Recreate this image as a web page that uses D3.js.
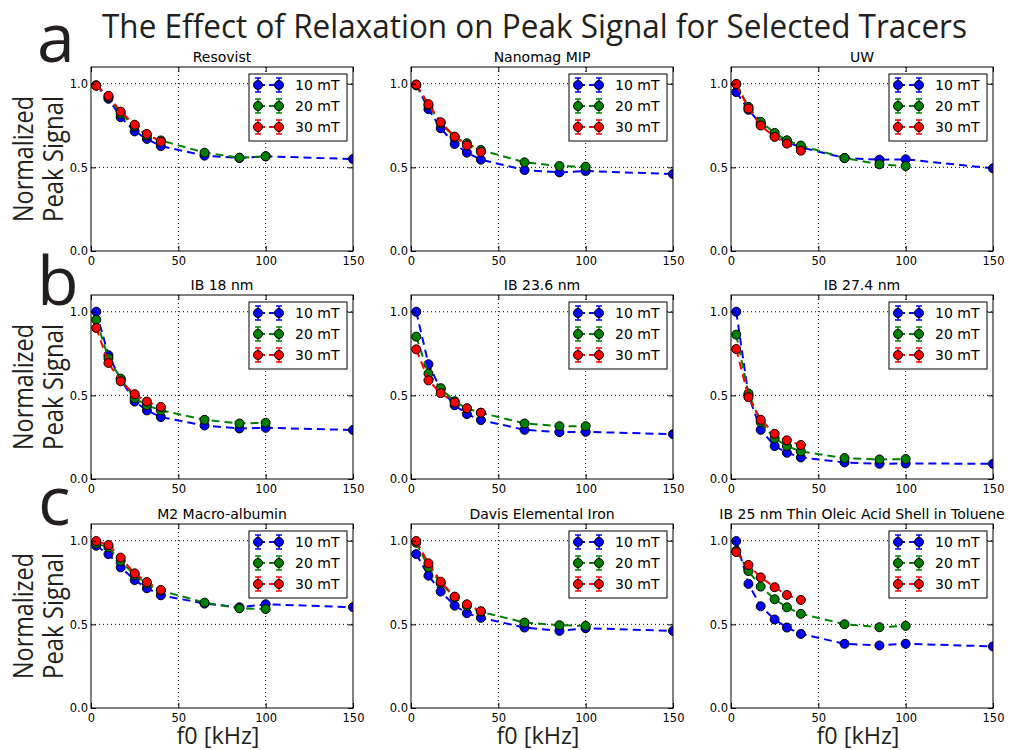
<!doctype html>
<html>
  <head>
    <script src="https://cdn.jsdelivr.net/npm/d3@7/dist/d3.min.js"></script>
    <style>
      body { margin: 0; background: #fff; }
      .big { font-family: "Open Sans", sans-serif; fill: #231f20; }
      .small { font-family: "DejaVu Sans", sans-serif; fill: #000; }
      .grid { stroke: #000; stroke-width: 1; stroke-dasharray: 1,3; }
    </style>
  </head>
  <body>
    <svg id="fig" width="1009" height="750"></svg>
    <script>
      // f0 in kHz, shared by all tracers
      var freqs = [3, 10, 17, 25, 32, 40, 65, 85, 100, 150];
      var fields = ["10 mT", "20 mT", "30 mT"];
      var colors = ["#0000ff", "#008000", "#ff0000"];
      var rowLetters = ["a", "b", "c"];

      // each tracer: [10 mT, 20 mT, 30 mT] peak signal, normalized
      var resovist = [
        [0.99, 0.91, 0.80, 0.715, 0.67, 0.627, 0.57, 0.556, 0.566, 0.55],
        [0.99, 0.92, 0.82, 0.745, 0.69, 0.661, 0.588, 0.558, 0.566],
        [0.988, 0.928, 0.833, 0.755, 0.70, 0.653]
      ];
      var nanomag = [
        [0.994, 0.848, 0.734, 0.64, 0.588, 0.546, 0.484, 0.47, 0.478, 0.46],
        [0.99, 0.87, 0.765, 0.68, 0.644, 0.604, 0.53, 0.508, 0.504],
        [0.995, 0.878, 0.77, 0.684, 0.632, 0.592]
      ];
      var uw = [
        [0.95, 0.844, 0.76, 0.688, 0.652, 0.62, 0.556, 0.546, 0.548, 0.494],
        [0.998, 0.862, 0.772, 0.706, 0.662, 0.63, 0.556, 0.518, 0.508],
        [0.998, 0.852, 0.75, 0.682, 0.642, 0.60]
      ];
      var ib18 = [
        [1.0, 0.74, 0.596, 0.463, 0.41, 0.37, 0.32, 0.302, 0.306, 0.293],
        [0.952, 0.722, 0.60, 0.483, 0.441, 0.41, 0.354, 0.332, 0.336],
        [0.903, 0.694, 0.584, 0.507, 0.463, 0.431]
      ];
      var ib236 = [
        [1.0, 0.686, 0.537, 0.441, 0.388, 0.352, 0.294, 0.28, 0.282, 0.268],
        [0.851, 0.63, 0.543, 0.465, 0.421, 0.396, 0.332, 0.316, 0.316],
        [0.775, 0.59, 0.513, 0.457, 0.423, 0.396]
      ];
      var ib274 = [
        [1.0, 0.50, 0.294, 0.197, 0.157, 0.129, 0.099, 0.091, 0.093, 0.091],
        [0.863, 0.511, 0.34, 0.243, 0.197, 0.165, 0.125, 0.117, 0.119],
        [0.777, 0.489, 0.354, 0.27, 0.231, 0.203]
      ];
      var m2 = [
        [0.97, 0.92, 0.841, 0.765, 0.716, 0.674, 0.624, 0.602, 0.62, 0.603],
        [0.984, 0.96, 0.879, 0.795, 0.744, 0.702, 0.63, 0.596, 0.592],
        [0.998, 0.974, 0.899, 0.805, 0.753, 0.706]
      ];
      var davis = [
        [0.92, 0.791, 0.696, 0.612, 0.567, 0.539, 0.481, 0.461, 0.477, 0.461],
        [0.988, 0.841, 0.746, 0.662, 0.61, 0.575, 0.511, 0.495, 0.491],
        [0.998, 0.865, 0.755, 0.666, 0.62, 0.579]
      ];
      var ib25 = [
        [0.998, 0.742, 0.608, 0.529, 0.481, 0.443, 0.384, 0.374, 0.384, 0.368],
        [0.94, 0.819, 0.726, 0.65, 0.602, 0.563, 0.501, 0.483, 0.491],
        [0.932, 0.855, 0.781, 0.722, 0.676, 0.646]
      ];

      var titles = ["Resovist", "Nanomag MIP", "UW",
                    "IB 18 nm", "IB 23.6 nm", "IB 27.4 nm",
                    "M2 Macro-albumin", "Davis Elemental Iron", "IB 25 nm Thin Oleic Acid Shell in Toluene"];
      var tracers = [resovist, nanomag, uw, ib18, ib236, ib274, m2, davis, ib25];

      var xTicks = [0, 50, 100, 150];
      var yTicks = [0, 0.5, 1.0];

      var svg = d3.select("#fig");
      var colX = [91, 411, 731], rowY = [67, 295, 524];
      var pw = 262, ph = 184;

      var x = d3.scaleLinear().domain([0, 150]).range([0, pw]);
      var y = d3.scaleLinear().domain([0, 1.1]).range([ph, 0]);

      svg.append("text").attr("class", "big")
        .attr("x", 102).attr("y", 38)
        .attr("font-size", 33)
        .attr("textLength", 865).attr("lengthAdjust", "spacingAndGlyphs")
        .text("The Effect of Relaxation on Peak Signal for Selected Tracers");

      var letterPos = [[37, 62], [37, 305], [38, 525]];
      rowLetters.forEach((l, i) => {
        svg.append("text").attr("class", "big")
          .attr("x", letterPos[i][0]).attr("y", letterPos[i][1])
          .attr("font-size", 68).text(l);
      });

      rowY.forEach(ry => {
        var cy = ry + ph / 2;
        [["Normalized", 33], ["Peak Signal", 63]].forEach(t => {
          svg.append("text").attr("class", "big")
            .attr("transform", `translate(${t[1]},${cy}) rotate(-90)`)
            .attr("text-anchor", "middle")
            .attr("font-size", 28)
            .attr("textLength", 126).attr("lengthAdjust", "spacingAndGlyphs")
            .text(t[0]);
        });
      });

      colX.forEach(cx => {
        svg.append("text").attr("class", "big")
          .attr("x", cx + pw / 2 - 4).attr("y", 744)
          .attr("text-anchor", "middle")
          .attr("font-size", 23)
          .attr("textLength", 83).attr("lengthAdjust", "spacingAndGlyphs")
          .text("f0 [kHz]");
      });

      var line = d3.line().x((d, i) => x(freqs[i])).y(d => y(d));

      tracers.forEach((series, p) => {
        var px = colX[p % 3], py = rowY[Math.floor(p / 3)];
        var g = svg.append("g").attr("transform", `translate(${px},${py})`);

        g.append("clipPath").attr("id", "clip" + p)
          .append("rect").attr("width", pw).attr("height", ph);

        g.selectAll("line.gx").data([50, 100]).enter().append("line")
          .attr("class", "grid").attr("x1", d => x(d)).attr("x2", d => x(d))
          .attr("y1", 0).attr("y2", ph);
        g.selectAll("line.gy").data([0.5, 1.0]).enter().append("line")
          .attr("class", "grid").attr("y1", d => y(d)).attr("y2", d => y(d))
          .attr("x1", 0).attr("x2", pw);

        var plot = g.append("g").attr("clip-path", `url(#clip${p})`);
        series.forEach((vals, s) => {
          plot.append("path").datum(vals)
            .attr("d", line)
            .attr("fill", "none")
            .attr("stroke", colors[s])
            .attr("stroke-width", 2)
            .attr("stroke-dasharray", "8,5");
          plot.selectAll("circle.s" + s).data(vals).enter().append("circle")
            .attr("cx", (d, i) => x(freqs[i]))
            .attr("cy", d => y(d))
            .attr("r", 4.5)
            .attr("fill", colors[s])
            .attr("stroke", "#000")
            .attr("stroke-width", 1);
        });

        g.append("rect").attr("width", pw).attr("height", ph)
          .attr("fill", "none").attr("stroke", "#000").attr("stroke-width", 1);

        var ax = [
          [d3.axisBottom(x).tickValues(xTicks).tickFormat(d3.format("d")).tickPadding(6), `translate(0,${ph})`],
          [d3.axisTop(x).tickValues(xTicks).tickFormat(""), "translate(0,0)"],
          [d3.axisLeft(y).tickValues(yTicks).tickFormat(d3.format(".1f")).tickPadding(3), "translate(0,0)"],
          [d3.axisRight(y).tickValues(yTicks).tickFormat(""), `translate(${pw},0)`]
        ];
        ax.forEach(a => {
          var ag = g.append("g").attr("transform", a[1])
            .call(a[0].tickSize(-5));
          ag.select(".domain").remove();
          ag.selectAll("text").attr("class", "small")
            .attr("font-family", "DejaVu Sans").attr("font-size", 11.5).attr("fill", "#000");
        });

        g.append("text").attr("class", "small")
          .attr("x", pw / 2).attr("y", -5)
          .attr("text-anchor", "middle").attr("font-size", 14)
          .text(titles[p]);

        var lg = g.append("g").attr("transform", `translate(${pw - 104},7)`);
        lg.append("rect").attr("width", 98).attr("height", 67)
          .attr("fill", "#fff").attr("stroke", "#000").attr("stroke-width", 1);
        fields.forEach((f, s) => {
          var ly = 11 + s * 21;
          var e = lg.append("g").attr("transform", `translate(0,${ly})`);
          [9, 30].forEach(hx => {
            e.append("line").attr("x1", hx).attr("x2", hx).attr("y1", -7).attr("y2", 7)
              .attr("stroke", colors[s]).attr("stroke-width", 1.5);
            e.selectAll(null).data([-7, 7]).enter().append("line")
              .attr("x1", hx - 3).attr("x2", hx + 3).attr("y1", d => d).attr("y2", d => d)
              .attr("stroke", colors[s]).attr("stroke-width", 1.5);
          });
          e.append("line").attr("x1", 9).attr("x2", 30)
            .attr("stroke", colors[s]).attr("stroke-width", 2).attr("stroke-dasharray", "7,4");
          [9, 30].forEach(hx => {
            e.append("circle").attr("cx", hx).attr("r", 4.5)
              .attr("fill", colors[s]).attr("stroke", "#000").attr("stroke-width", 1);
          });
          e.append("text").attr("class", "small")
            .attr("x", 46).attr("dy", "0.36em").attr("font-size", 14)
            .text(f);
        });
      });
    </script>
  </body>
</html>
